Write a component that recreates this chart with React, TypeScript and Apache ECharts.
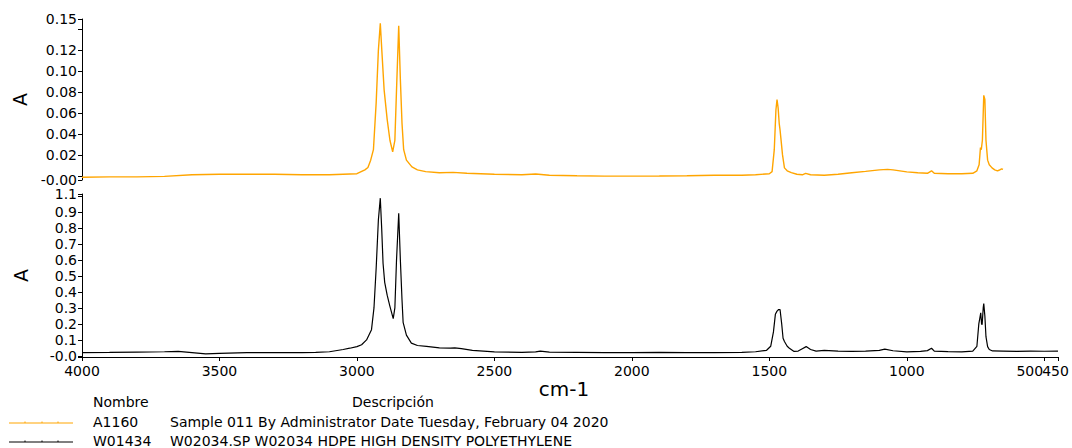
import React, { useEffect, useRef } from 'react';
import * as echarts from 'echarts';

// Sample spectrum A1160 (top panel): [wavenumber cm-1, absorbance]
const sampleSpectrum: [number, number][] = [
  [4000, -0.0014], [3900, -0.001], [3800, -0.001], [3700, -0.0005], [3600, 0.001],
  [3500, 0.0015], [3400, 0.0015], [3300, 0.0015], [3200, 0.001], [3100, 0.001],
  [3050, 0.0015], [3000, 0.002], [2971, 0.0057], [2960, 0.008], [2950, 0.015],
  [2940, 0.025], [2930, 0.07], [2922, 0.12], [2915, 0.146], [2909, 0.118],
  [2901, 0.082], [2890, 0.054], [2880, 0.034], [2870, 0.023], [2862, 0.034],
  [2856, 0.082], [2848, 0.1435], [2842, 0.092], [2836, 0.05], [2830, 0.025],
  [2820, 0.015], [2800, 0.0086], [2780, 0.0057], [2750, 0.004], [2700, 0.003],
  [2650, 0.0033], [2600, 0.0024], [2500, 0.0015], [2400, 0.001], [2350, 0.0018],
  [2300, 0.0005], [2200, 0.0], [2100, -0.0003], [2000, -0.0003], [1900, -0.0002],
  [1800, 0.0], [1700, 0.0005], [1600, 0.0005], [1550, 0.001], [1500, 0.002],
  [1490, 0.004], [1482, 0.025], [1476, 0.063], [1472, 0.073], [1468, 0.065],
  [1464, 0.05], [1461, 0.044], [1458, 0.036], [1452, 0.02], [1445, 0.0076], [1435, 0.0048],
  [1420, 0.003], [1400, 0.0015], [1380, 0.001], [1368, 0.0024], [1350, 0.001],
  [1300, 0.0005], [1250, 0.0015], [1200, 0.003], [1150, 0.0043], [1100, 0.0057],
  [1070, 0.0062], [1050, 0.0057], [1000, 0.0038], [960, 0.0029], [925, 0.0024],
  [910, 0.0048], [900, 0.0024], [850, 0.002], [800, 0.002], [760, 0.0024],
  [745, 0.0048], [737, 0.0105], [732, 0.027], [729, 0.025], [725, 0.034],
  [720, 0.077], [716, 0.073], [712, 0.034], [706, 0.015], [700, 0.0105],
  [690, 0.0076], [680, 0.0057], [670, 0.0048], [665, 0.0053], [655, 0.0067],
  [650, 0.0062],
];

// Reference spectrum W01434 HDPE (bottom panel)
const hdpeSpectrum: [number, number][] = [
  [4000, 0.021], [3900, 0.022], [3800, 0.024], [3700, 0.026], [3650, 0.028],
  [3600, 0.02], [3550, 0.012], [3500, 0.016], [3400, 0.02], [3300, 0.02],
  [3200, 0.02], [3150, 0.022], [3100, 0.026], [3050, 0.04], [3026, 0.048],
  [3000, 0.058], [2983, 0.07], [2965, 0.1], [2947, 0.164], [2938, 0.3],
  [2930, 0.55], [2922, 0.85], [2915, 0.987], [2910, 0.8], [2905, 0.58],
  [2899, 0.46], [2890, 0.38], [2880, 0.31], [2868, 0.233], [2862, 0.3], [2856, 0.6],
  [2848, 0.893], [2842, 0.6], [2836, 0.35], [2832, 0.21], [2820, 0.13],
  [2802, 0.08], [2780, 0.065], [2747, 0.06], [2700, 0.05], [2660, 0.048],
  [2644, 0.05], [2620, 0.045], [2580, 0.035], [2500, 0.025], [2400, 0.022],
  [2350, 0.025], [2333, 0.03], [2300, 0.024], [2200, 0.022], [2100, 0.02],
  [2000, 0.02], [1900, 0.022], [1800, 0.02], [1700, 0.02], [1600, 0.022],
  [1550, 0.026], [1510, 0.035], [1495, 0.06], [1485, 0.15], [1478, 0.26],
  [1472, 0.28], [1466, 0.29], [1461, 0.29], [1455, 0.2], [1450, 0.11],
  [1445, 0.09], [1435, 0.06], [1427, 0.048], [1410, 0.028], [1395, 0.03],
  [1380, 0.045], [1366, 0.058], [1350, 0.04], [1330, 0.03], [1300, 0.035],
  [1250, 0.03], [1200, 0.028], [1150, 0.03], [1100, 0.035], [1080, 0.042],
  [1050, 0.032], [1000, 0.025], [950, 0.028], [925, 0.033], [910, 0.048],
  [900, 0.03], [850, 0.027], [800, 0.025], [760, 0.03], [745, 0.06],
  [738, 0.2], [734, 0.24], [731, 0.27], [728, 0.2], [726, 0.195],
  [722, 0.3], [720, 0.327], [716, 0.25], [712, 0.12], [706, 0.058],
  [700, 0.04], [688, 0.031], [650, 0.03], [600, 0.028], [550, 0.03],
  [500, 0.029], [450, 0.03],
];

const xRange = [450, 4000];
const topRange = [-0.004, 0.15];
const bottomRange = [-0.007, 1.013];
const topHiddenTicks = [0, 0.14];
const bottomHiddenTicks = [0, 1.0];

const legendHeaders = ['Nombre', 'Descripción'];
const legendNames = ['A1160', 'W01434'];
const legendDescriptions = [
  'Sample 011 By Administrator Date Tuesday, February 04 2020',
  'W02034.SP W02034 HDPE HIGH DENSITY POLYETHYLENE',
];
const seriesColors = ['#FFA500', '#000000'];

const FONT = '"DejaVu Sans", "Liberation Sans", Arial, sans-serif';

function yFormatter(min: number, max: number, dec: number, hide: number[], raiseMin: boolean) {
  return (v: number) => {
    const f = Math.pow(10, dec);
    if (Math.abs(v - min) < 1e-9 || Math.abs(v - max) < 1e-9) {
      const c = Math.ceil(v * f - 1e-9) / f;
      const s = (v < 0 ? '-' : '') + Math.abs(c).toFixed(dec);
      return raiseMin && Math.abs(v - min) < 1e-9 ? '{m|' + s + '}' : s;
    }
    if (hide.some((h) => Math.abs(v - h) < 1e-9)) return '';
    return v.toFixed(dec);
  };
}

// main x axis: every tick label except the end value (drawn by an overlay axis)
function xFormatter(v: number) {
  if (Math.abs(v - xRange[0]) < 1e-9) return '';
  if (Math.abs(v - 500) < 1e-9) return '{l|500}';
  return String(Math.round(v));
}
function xEndFormatter(v: number) {
  if (Math.abs(v - xRange[0]) < 1e-9) return '{r|' + String(Math.round(v)) + '}';
  return '';
}

export default function App() {
  const ref = useRef<HTMLDivElement>(null);
  useEffect(() => {
    document.body.style.margin = '0';
    if (!ref.current) return;
    const chart = echarts.init(ref.current, undefined, { renderer: 'svg' });
    const axisLineStyle = { color: '#000', width: 1 };
    const labelStyle = { color: '#000', fontSize: 14, fontFamily: FONT, lineHeight: 12 };
    const legendTexts: any[] = [];
    legendTexts.push({
      type: 'text', x: 93, y: 402,
      style: { text: legendHeaders[0], fill: '#000', font: `14px ${FONT}`, verticalAlign: 'middle' },
    });
    legendTexts.push({
      type: 'text', x: 352, y: 402,
      style: { text: legendHeaders[1], fill: '#000', font: `14px ${FONT}`, verticalAlign: 'middle' },
    });
    legendNames.forEach((n, i) => {
      const y = 422 + i * 19;
      legendTexts.push({
        type: 'line', shape: { x1: 9, y1: y + 1, x2: 73, y2: y + 1 },
        style: { stroke: seriesColors[i], lineWidth: 1 },
      });
      [25, 42, 58].forEach((tx) => {
        legendTexts.push({
          type: 'line', shape: { x1: tx, y1: y - 0.5, x2: tx, y2: y + 1 },
          style: { stroke: seriesColors[i], lineWidth: 1 },
        });
      });
      legendTexts.push({
        type: 'text', x: 93, y,
        style: { text: n, fill: '#000', font: `14px ${FONT}`, verticalAlign: 'middle' },
      });
      legendTexts.push({
        type: 'text', x: 170, y,
        style: { text: legendDescriptions[i], fill: '#000', font: `14px ${FONT}`, verticalAlign: 'middle' },
      });
    });

    chart.setOption({
      animation: false,
      backgroundColor: '#fff',
      grid: [
        { left: 82, right: 14, top: 19, height: 161, containLabel: false, outerBoundsMode: 'none' },
        { left: 82, right: 14, top: 194, height: 163, containLabel: false, outerBoundsMode: 'none' },
      ],
      xAxis: [
        {
          type: 'value', gridIndex: 0, min: xRange[0], max: xRange[1], inverse: true,
          show: false, splitNumber: 7,
        },
        {
          type: 'value', gridIndex: 1, min: xRange[0], max: xRange[1], inverse: true,
          splitNumber: 7,
          name: 'cm-1', nameLocation: 'middle', nameGap: 20,
          nameTextStyle: { color: '#000', fontSize: 20, fontFamily: FONT, padding: [0, 12, 0, 0] },
          axisLine: { show: true, onZero: false, lineStyle: axisLineStyle },
          axisTick: { show: true, length: 4, lineStyle: axisLineStyle },
          splitLine: { show: false },
          axisLabel: {
            ...labelStyle, margin: 8, formatter: xFormatter,
            showMinLabel: true, showMaxLabel: true, hideOverlap: false,
            rich: { l: { ...labelStyle, padding: [0, 29, 0, 0] } },
          },
        },
        {
          type: 'value', gridIndex: 1, min: xRange[0], max: xRange[1], inverse: true,
          splitNumber: 7, position: 'bottom',
          axisLine: { show: false, onZero: false },
          axisTick: { show: false },
          splitLine: { show: false },
          axisLabel: {
            ...labelStyle, margin: 8, formatter: xEndFormatter,
            showMinLabel: true, showMaxLabel: true, hideOverlap: false,
            rich: { r: { ...labelStyle, padding: [0, 5, 0, 0] } },
          },
        },
      ],
      yAxis: [
        {
          type: 'value', gridIndex: 0, min: topRange[0], max: topRange[1], splitNumber: 8,
          name: 'A', nameLocation: 'middle', nameGap: 52,
          nameTextStyle: { color: '#000', fontSize: 19, fontFamily: FONT },
          axisLine: { show: true, onZero: false, lineStyle: axisLineStyle },
          axisTick: { show: true, length: 4, lineStyle: axisLineStyle },
          splitLine: { show: false },
          axisLabel: {
            ...labelStyle, margin: 5, showMinLabel: true, showMaxLabel: true, hideOverlap: false,
            formatter: yFormatter(topRange[0], topRange[1], 2, topHiddenTicks, false),
          },
        },
        {
          type: 'value', gridIndex: 1, min: bottomRange[0], max: bottomRange[1], splitNumber: 10,
          name: 'A', nameLocation: 'middle', nameGap: 52,
          nameTextStyle: { color: '#000', fontSize: 19, fontFamily: FONT },
          axisLine: { show: true, onZero: false, lineStyle: axisLineStyle },
          axisTick: { show: true, length: 4, lineStyle: axisLineStyle },
          splitLine: { show: false },
          axisLabel: {
            ...labelStyle, margin: 5, showMinLabel: true, showMaxLabel: true, hideOverlap: false,
            formatter: yFormatter(bottomRange[0], bottomRange[1], 1, bottomHiddenTicks, true),
            rich: { m: { ...labelStyle, padding: [0, 0, 3, 0] } },
          },
        },
      ],
      series: [
        {
          type: 'line', name: legendNames[0], xAxisIndex: 0, yAxisIndex: 0, data: sampleSpectrum,
          showSymbol: false, symbol: 'none', lineStyle: { color: seriesColors[0], width: 1.4 },
          itemStyle: { color: seriesColors[0] },
        },
        {
          type: 'line', name: legendNames[1], xAxisIndex: 1, yAxisIndex: 1, data: hdpeSpectrum,
          showSymbol: false, symbol: 'none', lineStyle: { color: seriesColors[1], width: 1.2 },
          itemStyle: { color: seriesColors[1] },
        },
      ],
      graphic: legendTexts,
    });
    return () => chart.dispose();
  }, []);
  return <div ref={ref} style={{ position: 'fixed', left: 0, top: 0, width: 1072, height: 448 }} />;
}
